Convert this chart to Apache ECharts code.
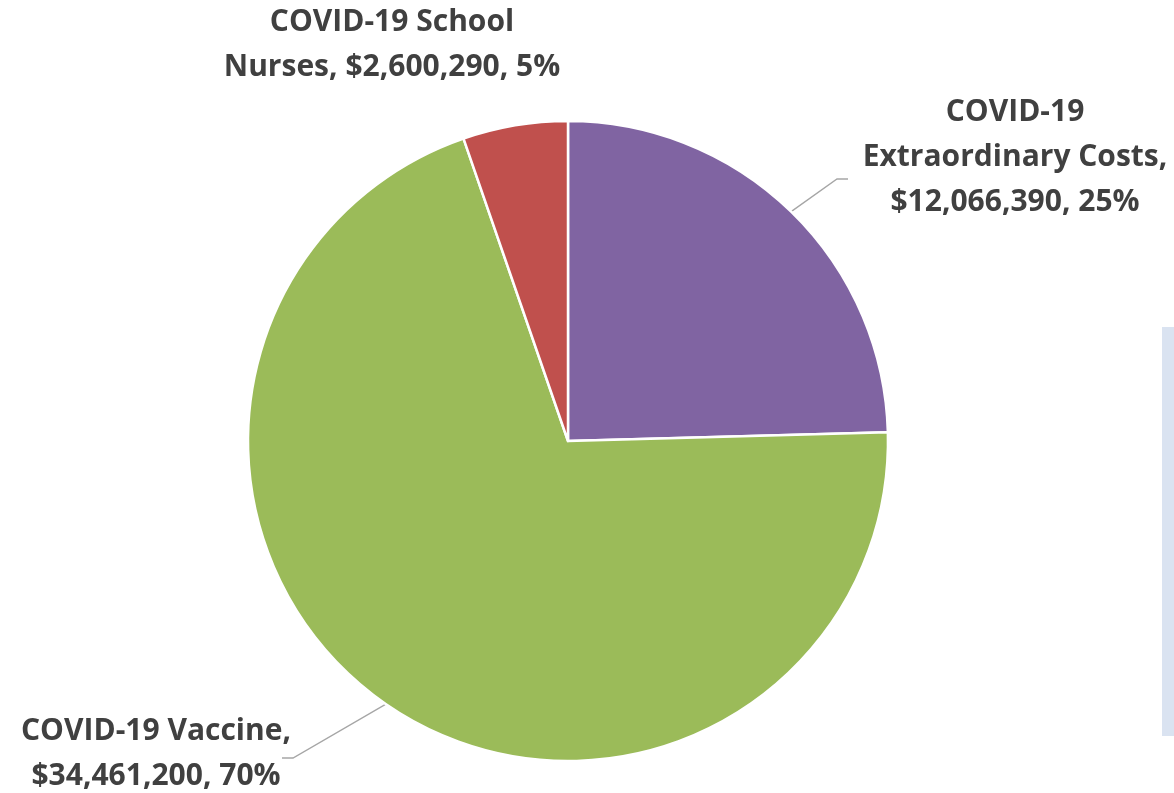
<!DOCTYPE html>
<html>
<head>
<meta charset="utf-8">
<script src="https://cdn.jsdelivr.net/npm/echarts@6/dist/echarts.min.js"></script>
<style>
html,body{margin:0;padding:0;background:#fff;}
#c{width:1174px;height:793px;}
</style>
</head>
<body>
<div id="c"></div>
<script>
const categories = ['COVID-19 Extraordinary Costs', 'COVID-19 Vaccine', 'COVID-19 School Nurses'];
const values = [12066390, 34461200, 2600290];
const colors = ['#8064A2', '#9BBB59', '#C0504D'];
const showLeader = [true, true, false];
// label wrapping: [break inside name after word index, separator between name and amount]
const labelWraps = [
  {nameBreakAfter: 1, sep: ',\n'},
  {nameBreakAfter: -1, sep: ',\n'},
  {nameBreakAfter: 2, sep: ', '}
];
// label anchor (centre of label block) in pixels
const labelAnchors = [[1015, 157], [156, 754], [392, 45]];
// leader elbow / end points
const leaderBends = [[[837, 179], [848, 179]], [[293, 758], [282, 758]], null];

const chart = echarts.init(document.getElementById('c'));
function fmtLabel(p) {
  const w = labelWraps[p.dataIndex];
  const words = p.name.split(' ');
  let name;
  if (w.nameBreakAfter > 0) {
    name = words.slice(0, w.nameBreakAfter).join(' ') + '\n' + words.slice(w.nameBreakAfter).join(' ');
  } else name = p.name;
  return name + w.sep + '$' + p.value.toLocaleString('en-US') + ', ' + p.percent + '%';
}
chart.setOption({
  animation: false,
  backgroundColor: '#ffffff',
  graphic: [{
    type: 'rect', shape: {x: 1162, y: 327, width: 14, height: 409},
    style: {fill: '#DAE3F1'}
  }],
  series: [{
    type: 'pie',
    center: [568, 441],
    radius: 320,
    startAngle: 90,
    clockwise: true,
    percentPrecision: 0,
    data: categories.map((c, i) => ({
      name: c, value: values[i], itemStyle: {color: colors[i]},
      labelLine: {show: showLeader[i]}
    })),
    itemStyle: {borderColor: '#ffffff', borderWidth: 2.5},
    label: {
      show: true,
      position: 'outside',
      formatter: fmtLabel,
      fontFamily: 'Open Sans',
      fontWeight: 'bold',
      fontSize: 30,
      lineHeight: 45,
      color: '#404040',
      align: 'center'
    },
    labelLine: {show: true, length: 40, length2: 12, lineStyle: {color: '#A6A6A6', width: 1.3}},
    labelLayout: function (p) {
      const a = labelAnchors[p.dataIndex];
      const res = {x: a[0], y: a[1], align: 'center', verticalAlign: 'middle'};
      const b = leaderBends[p.dataIndex];
      if (b && p.labelLinePoints) {
        res.labelLinePoints = [p.labelLinePoints[0], b[0], b[1]];
      }
      return res;
    }
  }]
});
</script>
</body>
</html>
